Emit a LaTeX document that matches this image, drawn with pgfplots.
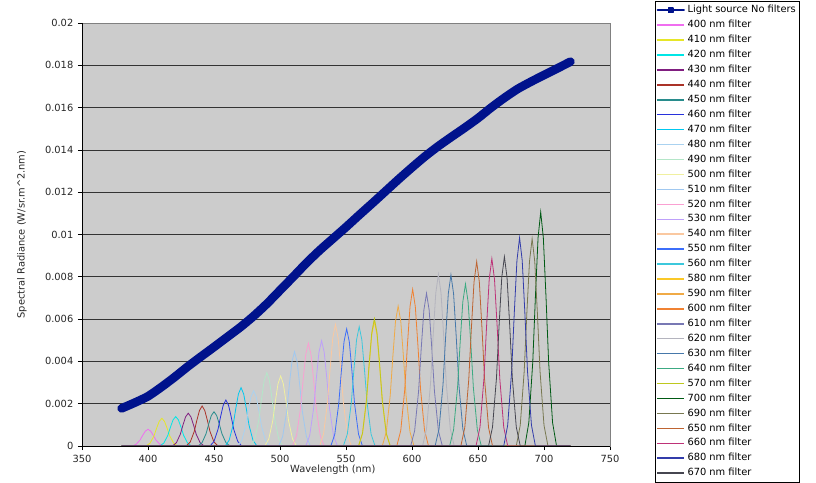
\documentclass[border=0pt]{standalone}
\usepackage{pgfplots}
\pgfplotsset{compat=1.18}
\usepackage{fontspec}
\setmainfont{DejaVu Sans}
\definecolor{navy}{RGB}{0,18,140}
\definecolor{c400}{RGB}{240,110,240}
\definecolor{c410}{RGB}{230,230,40}
\definecolor{c420}{RGB}{0,230,230}
\definecolor{c430}{RGB}{128,30,128}
\definecolor{c440}{RGB}{170,50,40}
\definecolor{c450}{RGB}{40,140,140}
\definecolor{c460}{RGB}{40,50,220}
\definecolor{c470}{RGB}{0,200,240}
\definecolor{c480}{RGB}{170,210,240}
\definecolor{c490}{RGB}{180,230,200}
\definecolor{c500}{RGB}{240,240,160}
\definecolor{c510}{RGB}{160,200,240}
\definecolor{c520}{RGB}{250,160,210}
\definecolor{c530}{RGB}{190,160,250}
\definecolor{c540}{RGB}{250,200,160}
\definecolor{c550}{RGB}{60,110,250}
\definecolor{c560}{RGB}{60,200,220}
\definecolor{c580}{RGB}{250,200,40}
\definecolor{c590}{RGB}{240,170,70}
\definecolor{c600}{RGB}{240,130,50}
\definecolor{c610}{RGB}{120,120,180}
\definecolor{c620}{RGB}{180,180,190}
\definecolor{c630}{RGB}{70,120,170}
\definecolor{c640}{RGB}{60,170,130}
\definecolor{c570}{RGB}{190,200,30}
\definecolor{c700}{RGB}{0,90,20}
\definecolor{c690}{RGB}{120,120,80}
\definecolor{c650}{RGB}{190,100,50}
\definecolor{c660}{RGB}{190,50,120}
\definecolor{c680}{RGB}{50,60,170}
\definecolor{c670}{RGB}{70,70,80}
\definecolor{plotbg}{RGB}{204,204,204}
\begin{document}
\begin{tikzpicture}
\begin{axis}[
  at={(0pt,0pt)}, anchor=south west,
  scale only axis, width=396pt, height=317.25pt,
  xmin=350, xmax=750, ymin=0, ymax=0.02,
  xtick={350,400,...,750},
  ytick={0,0.002,...,0.0201},
  scaled y ticks=false,
  yticklabel style={/pgf/number format/fixed,/pgf/number format/precision=3},
  /pgf/number format/assume math mode=true,
  tick label style={font=\fontsize{7.4}{8}\selectfont, text=black!85},
  label style={font=\fontsize{7.4}{8}\selectfont, text=black!85},
  xlabel={Wavelength (nm)},
  ylabel={Spectral Radiance (W/sr.m\textasciicircum 2.nm)},
  xlabel style={at={(axis description cs:0.475,-0.057)}, anchor=center},
  ylabel style={at={(axis description cs:-0.114,0.5)}, anchor=center},
  axis background/.style={fill=plotbg},
  axis line style={draw=black!50},
  tick align=outside, xtick pos=left, ytick pos=left,
  major tick length=3pt, tick style={black, line width=0.6pt},
  ymajorgrids, major grid style={black!80, line width=0.6pt},
  every axis plot/.append style={line width=0.6pt},
  legend image code/.code={\draw[mark repeat=2,mark phase=2,#1,line width=1.1pt] plot coordinates {(0pt,0pt) (10pt,0pt) (20pt,0pt)};},
  legend cell align=left,
  legend style={at={(1.0852,1.052)}, anchor=north west, line width=0.6pt, fill=white,
    font=\fontsize{7.4}{8}\selectfont, inner sep=1pt, row sep=0pt,
    nodes={text height=5.6pt, text depth=1.6pt, inner sep=2pt}},
]
\addplot[navy, line width=6.5pt, line join=round, line cap=round, smooth, tension=0.4,
  legend image post style={line width=0.9pt, mark=square*, mark size=1.8pt, sharp plot}] coordinates {
(380,0.00178)(390,0.00205)(400,0.00235)(410,0.00278)(420,0.00325)(430,0.00375)(440,0.00422)(450,0.00468)(460,0.00515)(470,0.00562)(480,0.00614)(490,0.00672)(500,0.00736)(510,0.00800)(520,0.00865)(530,0.00925)(540,0.00980)(550,0.01035)(560,0.01092)(570,0.01148)(580,0.01205)(590,0.01262)(600,0.01317)(610,0.01370)(620,0.01418)(630,0.01462)(640,0.01505)(650,0.01550)(660,0.01600)(670,0.01646)(680,0.01688)(690,0.01722)(700,0.01754)(710,0.01785)(720,0.01817)};
\addlegendentry{Light source No filters}
\addplot[c400] coordinates {(380,0)(388,0)(391,0.000079)(394,0.000284)(396,0.000506)(398,0.000703)(400,0.00079)(402,0.000703)(404,0.000506)(406,0.000284)(409,0.000079)(412,0)(720,0)};
\addlegendentry{400 nm filter}
\addplot[c410] coordinates {(380,0)(398.5,0)(401.5,0.000131)(404.5,0.000472)(406.5,0.000838)(408.5,0.001166)(410.5,0.00131)(412.5,0.001166)(414.5,0.000838)(416.5,0.000472)(419.5,0.000131)(422.5,0)(720,0)};
\addlegendentry{410 nm filter}
\addplot[c420] coordinates {(380,0)(409,0)(412,0.000139)(415,0.0005)(417,0.00089)(419,0.001237)(421,0.00139)(423,0.001237)(425,0.00089)(427,0.0005)(430,0.000139)(433,0)(720,0)};
\addlegendentry{420 nm filter}
\addplot[c430] coordinates {(380,0)(418.5,0)(421.5,0.000155)(424.5,0.000558)(426.5,0.000992)(428.5,0.00138)(430.5,0.00155)(432.5,0.00138)(434.5,0.000992)(436.5,0.000558)(439.5,0.000155)(442.5,0)(720,0)};
\addlegendentry{430 nm filter}
\addplot[c440] coordinates {(380,0)(429,0)(432,0.000189)(435,0.00068)(437,0.00121)(439,0.00168)(441,0.00189)(443,0.00168)(445,0.00121)(447,0.00068)(450,0.000189)(453,0)(720,0)};
\addlegendentry{440 nm filter}
\addplot[c450] coordinates {(380,0)(438,0)(441,0.000162)(444,0.000583)(446,0.001037)(448,0.001442)(450,0.00162)(452,0.001442)(454,0.001037)(456,0.000583)(459,0.000162)(462,0)(720,0)};
\addlegendentry{450 nm filter}
\addplot[c460] coordinates {(380,0)(447,0)(450,0.000217)(453,0.000781)(455,0.001389)(457,0.001931)(459,0.00217)(461,0.001931)(463,0.001389)(465,0.000781)(468,0.000217)(471,0)(720,0)};
\addlegendentry{460 nm filter}
\addplot[c470] coordinates {(380,0)(458.5,0)(461.5,0.000276)(464.5,0.000994)(466.5,0.001766)(468.5,0.002456)(470.5,0.00276)(472.5,0.002456)(474.5,0.001766)(476.5,0.000994)(479.5,0.000276)(482.5,0)(720,0)};
\addlegendentry{470 nm filter}
\addplot[c480] coordinates {(380,0)(468,0)(471,0.000261)(474,0.00094)(476,0.00167)(478,0.002323)(480,0.00261)(482,0.002323)(484,0.00167)(486,0.00094)(489,0.000261)(492,0)(720,0)};
\addlegendentry{480 nm filter}
\addplot[c490] coordinates {(380,0)(478,0)(481,0.000347)(484,0.001249)(486,0.002221)(488,0.003088)(490,0.00347)(492,0.003088)(494,0.002221)(496,0.001249)(499,0.000347)(502,0)(720,0)};
\addlegendentry{490 nm filter}
\addplot[c500] coordinates {(380,0)(488.5,0)(491.5,0.000331)(494.5,0.001192)(496.5,0.002118)(498.5,0.002946)(500.5,0.00331)(502.5,0.002946)(504.5,0.002118)(506.5,0.001192)(509.5,0.000331)(512.5,0)(720,0)};
\addlegendentry{500 nm filter}
\addplot[c510] coordinates {(380,0)(499,0)(502,0.000446)(505,0.001606)(507,0.002854)(509,0.003969)(511,0.00446)(513,0.003969)(515,0.002854)(517,0.001606)(520,0.000446)(523,0)(720,0)};
\addlegendentry{510 nm filter}
\addplot[c520] coordinates {(380,0)(509.5,0)(512.5,0.000486)(515.5,0.00175)(517.5,0.00311)(519.5,0.004325)(521.5,0.00486)(523.5,0.004325)(525.5,0.00311)(527.5,0.00175)(530.5,0.000486)(533.5,0)(720,0)};
\addlegendentry{520 nm filter}
\addplot[c530] coordinates {(380,0)(519.5,0)(522.5,0.000498)(525.5,0.001793)(527.5,0.003187)(529.5,0.004432)(531.5,0.00498)(533.5,0.004432)(535.5,0.003187)(537.5,0.001793)(540.5,0.000498)(543.5,0)(720,0)};
\addlegendentry{530 nm filter}
\addplot[c540] coordinates {(380,0)(530,0)(533,0.000575)(536,0.00207)(538,0.00368)(540,0.005118)(542,0.00575)(544,0.005118)(546,0.00368)(548,0.00207)(551,0.000575)(554,0)(720,0)};
\addlegendentry{540 nm filter}
\addplot[c550] coordinates {(380,0)(538.5,0)(541.5,0.000554)(544.5,0.001994)(546.5,0.003546)(548.5,0.004931)(550.5,0.00554)(552.5,0.004931)(554.5,0.003546)(556.5,0.001994)(559.5,0.000554)(562.5,0)(720,0)};
\addlegendentry{550 nm filter}
\addplot[c560] coordinates {(380,0)(548,0)(551,0.000564)(554,0.00203)(556,0.00361)(558,0.00502)(560,0.00564)(562,0.00502)(564,0.00361)(566,0.00203)(569,0.000564)(572,0)(720,0)};
\addlegendentry{560 nm filter}
\addplot[c580] coordinates {(380,0)(559.5,0)(562.5,0.00059)(565.5,0.002124)(567.5,0.003776)(569.5,0.005251)(571.5,0.0059)(573.5,0.005251)(575.5,0.003776)(577.5,0.002124)(580.5,0.00059)(583.5,0)(720,0)};
\addlegendentry{580 nm filter}
\addplot[c590] coordinates {(380,0)(577.5,0)(580.5,0.000662)(583.5,0.002383)(585.5,0.004237)(587.5,0.005892)(589.5,0.00662)(591.5,0.005892)(593.5,0.004237)(595.5,0.002383)(598.5,0.000662)(601.5,0)(720,0)};
\addlegendentry{590 nm filter}
\addplot[c600] coordinates {(380,0)(588.5,0)(591.5,0.000741)(594.5,0.002668)(596.5,0.004742)(598.5,0.006595)(600.5,0.00741)(602.5,0.006595)(604.5,0.004742)(606.5,0.002668)(609.5,0.000741)(612.5,0)(720,0)};
\addlegendentry{600 nm filter}
\addplot[c610] coordinates {(380,0)(599,0)(602,0.000722)(605,0.002599)(607,0.004621)(609,0.006426)(611,0.00722)(613,0.006426)(615,0.004621)(617,0.002599)(620,0.000722)(623,0)(720,0)};
\addlegendentry{610 nm filter}
\addplot[c620] coordinates {(380,0)(608,0)(611,0.000812)(614,0.002923)(616,0.005197)(618,0.007227)(620,0.00812)(622,0.007227)(624,0.005197)(626,0.002923)(629,0.000812)(632,0)(720,0)};
\addlegendentry{620 nm filter}
\addplot[c630] coordinates {(380,0)(617.5,0)(620.5,0.000809)(623.5,0.002912)(625.5,0.005178)(627.5,0.0072)(629.5,0.00809)(631.5,0.0072)(633.5,0.005178)(635.5,0.002912)(638.5,0.000809)(641.5,0)(720,0)};
\addlegendentry{630 nm filter}
\addplot[c640] coordinates {(380,0)(628.5,0)(631.5,0.000766)(634.5,0.002758)(636.5,0.004902)(638.5,0.006817)(640.5,0.00766)(642.5,0.006817)(644.5,0.004902)(646.5,0.002758)(649.5,0.000766)(652.5,0)(720,0)};
\addlegendentry{640 nm filter}
\addplot[c570] coordinates {(380,0)(559.5,0)(562.5,0.000602)(565.5,0.002167)(567.5,0.003853)(569.5,0.005358)(571.5,0.00602)(573.5,0.005358)(575.5,0.003853)(577.5,0.002167)(580.5,0.000602)(583.5,0)(720,0)};
\addlegendentry{570 nm filter}
\addplot[c700] coordinates {(380,0)(685.5,0)(688.5,0.001106)(691.5,0.003982)(693.5,0.007078)(695.5,0.009843)(697.5,0.01106)(699.5,0.009843)(701.5,0.007078)(703.5,0.003982)(706.5,0.001106)(709.5,0)(720,0)};
\addlegendentry{700 nm filter}
\addplot[c690] coordinates {(380,0)(679,0)(682,0.00098)(685,0.003528)(687,0.006272)(689,0.008722)(691,0.0098)(693,0.008722)(695,0.006272)(697,0.003528)(700,0.00098)(703,0)(720,0)};
\addlegendentry{690 nm filter}
\addplot[c650] coordinates {(380,0)(637,0)(640,0.000872)(643,0.003139)(645,0.005581)(647,0.007761)(649,0.00872)(651,0.007761)(653,0.005581)(655,0.003139)(658,0.000872)(661,0)(720,0)};
\addlegendentry{650 nm filter}
\addplot[c660] coordinates {(380,0)(648.5,0)(651.5,0.000886)(654.5,0.00319)(656.5,0.00567)(658.5,0.007885)(660.5,0.00886)(662.5,0.007885)(664.5,0.00567)(666.5,0.00319)(669.5,0.000886)(672.5,0)(720,0)};
\addlegendentry{660 nm filter}
\addplot[c680] coordinates {(380,0)(669.5,0)(672.5,0.000985)(675.5,0.003546)(677.5,0.006304)(679.5,0.008767)(681.5,0.00985)(683.5,0.008767)(685.5,0.006304)(687.5,0.003546)(690.5,0.000985)(693.5,0)(720,0)};
\addlegendentry{680 nm filter}
\addplot[c670] coordinates {(380,0)(658,0)(661,0.000895)(664,0.003222)(666,0.005728)(668,0.007966)(670,0.00895)(672,0.007966)(674,0.005728)(676,0.003222)(679,0.000895)(682,0)(720,0)};
\addlegendentry{670 nm filter}
\draw[black, line width=0.6pt] (rel axis cs:0,1) -- (rel axis cs:0,0) -- (rel axis cs:1,0);
\end{axis}
\pgfresetboundingbox
\path[use as bounding box] (-61.5pt,-27pt) rectangle (550.5pt,334.5pt);
\end{tikzpicture}
\end{document}
